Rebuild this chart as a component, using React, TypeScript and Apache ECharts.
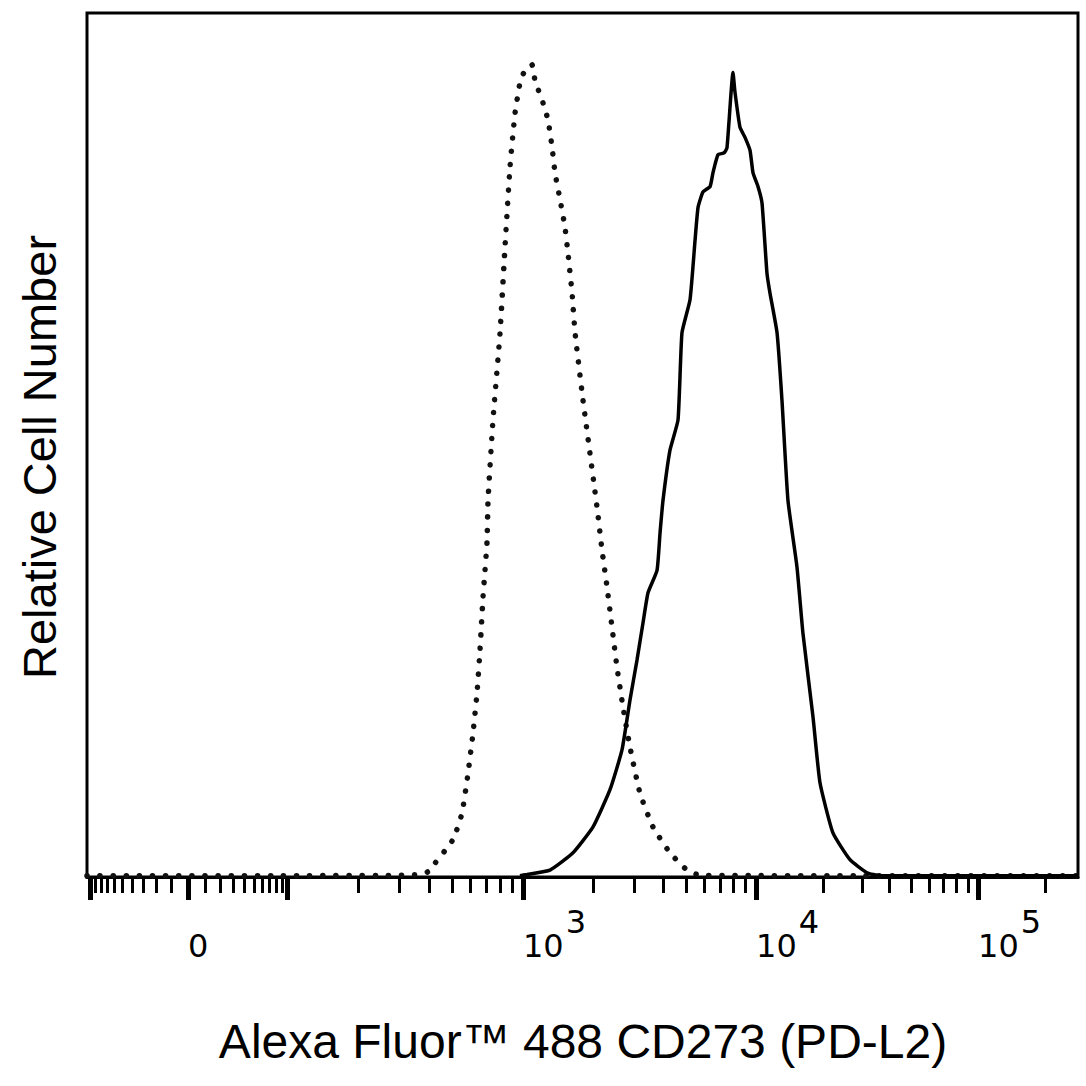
import React, { useEffect, useRef } from "react";
import * as echarts from "echarts";

// Display scale: channel 0..1024 across the plot (biexponential-like display)
const channelMax = 1024;
const anchorValues = [-100, 0, 100, 1000, 10000, 100000];
const anchorChannels = [3.1, 104.4, 206.7, 450.5, 691.3, 920.7];

// Tick values (fluorescence units)
const majorTickValues = [-100, 0, 100, 1000, 10000, 100000];
const minorTickValues = [
  -90, -80, -70, -60, -50, -40, -30, -20, -10,
  10, 20, 30, 40, 50, 60, 70, 80, 90,
  200, 300, 400, 500, 600, 700, 800, 900,
  2000, 3000, 4000, 5000, 6000, 7000, 8000, 9000,
  20000, 30000, 40000, 50000, 60000, 70000, 80000, 90000,
  200000,
];
const labelValues = [0, 1000, 10000, 100000];
const labelBase = ["0", "10", "10", "10"];
const labelExp = ["", "3", "4", "5"];

// Histograms: [display channel, relative count %]
const isotypeCurve: [number, number][] = [
  [0, 0.15], [200, 0.15], [330, 0.2], [344, 0.3], [352, 0.6], [378, 4.3],
  [387.5, 7.4], [393.7, 12.0], [398.9, 16.7], [403, 21.3], [406.1, 26.3],
  [409.2, 32.4], [413.3, 38.7], [414.4, 43.6], [419.5, 52.9], [426.8, 63.0],
  [431.9, 72.9], [437.1, 82.2], [442.3, 88.4], [447.4, 91.9], [452.6, 93.4],
  [459.8, 94.0], [462.9, 92.2], [471.2, 89.6], [476.4, 87.6], [480.5, 84.5],
  [483.6, 81.5], [488.8, 78.4], [493.9, 75.2], [497, 72.2], [501.2, 67.6],
  [504.3, 63.0], [512.5, 55.2], [527, 42.8], [532.2, 37.8], [537.3, 33.6],
  [542.5, 28.9], [547.6, 24.3], [553.8, 19.7], [561.1, 15.0], [571.4, 9.7],
  [584.8, 5.8], [602.4, 2.8], [620, 0.8], [633.4, 0.2], [800, 0.15], [1024, 0.15],
];

const stainedCurve: [number, number][] = [
  [447.4, 0.15], [454.7, 0.3], [478.4, 0.8], [502.2, 2.8], [522.9, 5.8],
  [540.4, 10.1], [552.8, 14.7], [561.1, 20.5], [568.3, 25.1], [574.5, 29.4],
  [579.7, 32.9], [589, 35.5], [592.1, 39.8], [595.2, 43.6], [602.4, 49.4],
  [610.7, 52.9], [614.8, 63.0], [623.1, 66.8], [628.3, 73.7], [631.4, 77.5],
  [636.5, 79.3], [643.8, 79.9], [646.8, 81.5], [652, 83.6], [658.2, 83.8],
  [661.3, 84.4], [667.5, 93.1], [669.5, 90.9], [674.7, 86.8], [679.9, 85.6],
  [685.1, 84.1], [688.2, 81.5], [693.4, 79.9], [697.5, 78.0], [702.6, 69.9],
  [705.7, 67.6], [713, 63.0], [718.1, 55.2], [724.3, 43.6], [733.6, 35.9],
  [739.8, 28.2], [750.2, 18.5], [757.4, 10.9], [770.8, 5.1], [788.4, 2.0],
  [806, 0.5], [819.4, 0.15], [1024, 0.15],
];

function toChannel(v: number): number {
  const a = anchorValues;
  const c = anchorChannels;
  if (v >= -100 && v <= 100) {
    const k = 30;
    const s = Math.asinh(Math.abs(v) / k) / Math.asinh(100 / k);
    return v >= 0 ? c[1] + (c[2] - c[1]) * s : c[1] - (c[1] - c[0]) * s;
  }
  if (v < -100) return c[0];
  const lv = Math.log10(v);
  for (let i = 2; i < a.length - 1; i++) {
    const l0 = Math.log10(a[i]);
    const l1 = Math.log10(a[i + 1]);
    if (lv <= l1) return c[i] + ((lv - l0) / (l1 - l0)) * (c[i + 1] - c[i]);
  }
  const n = a.length - 1;
  return c[n] + (lv - Math.log10(a[n])) * (c[n] - c[n - 1]);
}

export default function App() {
  const ref = useRef<HTMLDivElement>(null);

  useEffect(() => {
    if (!ref.current) return;
    const chart = echarts.init(ref.current, undefined, { renderer: "svg" });
    const font = "'Liberation Sans', Arial, Helvetica, sans-serif";
    const tickFont = "'DejaVu Sans', 'Liberation Sans', Arial, sans-serif";
    const labelChannels = labelValues.map(toChannel);

    const option: echarts.EChartsOption = {
      animation: false,
      backgroundColor: "#ffffff",
      grid: {
        left: 87,
        right: 8,
        top: 13,
        bottom: 209,
        show: true,
        borderColor: "#000",
        borderWidth: 3,
        backgroundColor: "transparent",
      },
      xAxis: [
        {
          type: "value",
          min: 0,
          max: channelMax,
          position: "bottom",
          splitLine: { show: false },
          axisLine: { show: true, lineStyle: { color: "#000", width: 3 } },
          axisTick: {
            show: true,
            customValues: majorTickValues.map(toChannel),
            length: 23,
            lineStyle: { color: "#000", width: 5 },
          },
          axisLabel: {
            show: true,
            customValues: labelChannels,
            margin: 29,
            align: "left",
            formatter: (val: number) => {
              let idx = 0;
              let best = Infinity;
              labelChannels.forEach((c, i) => {
                if (Math.abs(c - val) < best) {
                  best = Math.abs(c - val);
                  idx = i;
                }
              });
              return `{b|${labelBase[idx]}}{s|${labelExp[idx] || " "}}`;
            },
            rich: {
              b: {
                fontFamily: tickFont,
                fontSize: 32,
                color: "#000",
                verticalAlign: "bottom",
              },
              s: {
                fontFamily: tickFont,
                fontSize: 32,
                color: "#000",
                verticalAlign: "bottom",
                padding: [0, 0, 24, 2],
              },
            },
          },
        },
        {
          type: "value",
          min: 0,
          max: channelMax,
          position: "bottom",
          splitLine: { show: false },
          axisLine: { show: false },
          axisLabel: { show: false },
          axisTick: {
            show: true,
            customValues: minorTickValues.map(toChannel),
            length: 16,
            lineStyle: { color: "#000", width: 3 },
          },
        },
      ],
      yAxis: {
        type: "value",
        min: 0,
        max: 100,
        axisLine: { show: false },
        axisTick: { show: false },
        axisLabel: { show: false },
        splitLine: { show: false },
      },
      graphic: [
        {
          type: "text",
          x: 583,
          y: 1041,
          style: {
            text: "Alexa Fluor™ 488 CD273 (PD-L2)",
            font: `48px ${font}`,
            fill: "#000",
            align: "center",
            verticalAlign: "middle",
          },
        },
        {
          type: "text",
          x: 39,
          y: 457,
          rotation: Math.PI / 2,
          style: {
            text: "Relative Cell Number",
            font: `47px ${font}`,
            fill: "#000",
            align: "center",
            verticalAlign: "middle",
          },
        },
      ],
      series: [
        {
          name: "Isotype control",
          type: "line",
          xAxisIndex: 0,
          data: isotypeCurve,
          showSymbol: false,
          smooth: 0.15,
          z: 2,
          lineStyle: {
            color: "#111",
            width: 5.5,
            type: [0.1, 13],
            cap: "round",
          },
        },
        {
          name: "CD273 (PD-L2)",
          type: "line",
          xAxisIndex: 0,
          data: stainedCurve,
          showSymbol: false,
          smooth: 0.15,
          z: 3,
          lineStyle: { color: "#000", width: 3.5 },
        },
      ],
    };

    chart.setOption(option);
    return () => chart.dispose();
  }, []);

  return (
    <div
      ref={ref}
      style={{ position: "fixed", left: 0, top: 0, width: 1086, height: 1086 }}
    />
  );
}
